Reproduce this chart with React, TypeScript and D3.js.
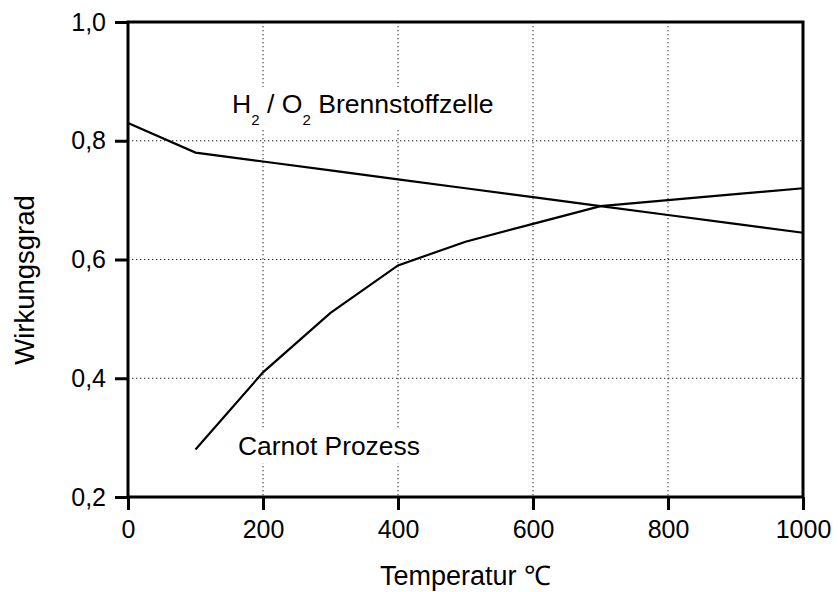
import React, { useEffect, useRef } from "react";
import * as d3 from "d3";

// Efficiency vs. temperature: H2/O2 fuel cell compared with the Carnot process
const fuelCellTemps = [0, 100, 200, 300, 400, 500, 600, 700, 800, 900, 1000];
const fuelCellEff = [0.83, 0.78, 0.765, 0.75, 0.735, 0.72, 0.705, 0.69, 0.675, 0.66, 0.645];
const carnotTemps = [100, 200, 300, 400, 500, 600, 700, 800, 900, 1000];
const carnotEff = [0.28, 0.41, 0.51, 0.59, 0.63, 0.66, 0.69, 0.7, 0.71, 0.72];
const xTicks = [0, 200, 400, 600, 800, 1000];
const yTicks = [0.2, 0.4, 0.6, 0.8, 1.0];
const xGrid = [200, 400, 600, 800];
const yGrid = [0.4, 0.6, 0.8];

const W = 838;
const H = 592;
const FONT = "'Liberation Sans', Arial, Helvetica, sans-serif";

export default function App() {
  const ref = useRef<SVGSVGElement | null>(null);

  useEffect(() => {
    const svg = d3.select(ref.current);
    svg.selectAll("*").remove();

    const x = d3.scaleLinear().domain([0, 1000]).range([128, 803]);
    const y = d3.scaleLinear().domain([0.2, 1.0]).range([497, 22]);
    const [x0, x1] = x.range();
    const [y0, y1] = y.range();

    svg.append("rect").attr("width", W).attr("height", H).attr("fill", "#fff");

    // dotted grid
    const grid = svg.append("g").attr("stroke", "#222").attr("stroke-width", 1).attr("stroke-dasharray", "1.3,2.7");
    xGrid.forEach((v) => {
      grid.append("line").attr("x1", x(v)).attr("x2", x(v)).attr("y1", y1).attr("y2", y0);
    });
    yGrid.forEach((v) => {
      grid.append("line").attr("x1", x0).attr("x2", x1).attr("y1", y(v)).attr("y2", y(v));
    });

    // curve labels on white backing
    const labels = svg.append("g").attr("font-family", FONT).attr("fill", "#000");
    const addBacked = (t: d3.Selection<SVGTextElement, unknown, null, undefined>) => {
      const b = (t.node() as SVGTextElement).getBBox();
      labels
        .insert("rect", () => t.node() as any)
        .attr("x", b.x - 4)
        .attr("y", b.y - 2)
        .attr("width", b.width + 8)
        .attr("height", b.height + 4)
        .attr("fill", "#fff");
    };

    const h2 = labels.append("text").attr("x", 232).attr("y", 113).attr("font-size", 26.6);
    h2.append("tspan").text("H");
    h2.append("tspan").attr("font-size", 15).attr("dy", 12).text("2");
    h2.append("tspan").attr("dy", -12).text(" / O");
    h2.append("tspan").attr("font-size", 15).attr("dy", 12).text("2");
    h2.append("tspan").attr("dy", -12).text(" Brennstoffzelle");
    addBacked(h2 as any);

    const carnot = labels
      .append("text")
      .attr("x", 238)
      .attr("y", 455)
      .attr("font-size", 26.4)
      .text("Carnot Prozess");
    addBacked(carnot as any);

    // data lines
    const line = d3
      .line<[number, number]>()
      .x((d) => x(d[0]))
      .y((d) => y(d[1]));
    const fuel = fuelCellTemps.map((t, i) => [t, fuelCellEff[i]] as [number, number]);
    const carn = carnotTemps.map((t, i) => [t, carnotEff[i]] as [number, number]);
    [fuel, carn].forEach((data) => {
      svg
        .append("path")
        .attr("d", line(data))
        .attr("fill", "none")
        .attr("stroke", "#000")
        .attr("stroke-width", 2.2)
        .attr("stroke-linejoin", "miter");
    });

    // frame
    svg
      .append("rect")
      .attr("x", x0)
      .attr("y", y1)
      .attr("width", x1 - x0)
      .attr("height", y0 - y1)
      .attr("fill", "none")
      .attr("stroke", "#000")
      .attr("stroke-width", 3);

    // axes
    const fmt = (v: number) => d3.format(".1f")(v).replace(".", ",");
    const xAxis = svg
      .append("g")
      .attr("transform", `translate(0,${y0})`)
      .call(d3.axisBottom(x).tickValues(xTicks).tickSize(13).tickPadding(10).tickFormat((d) => String(d)));
    const yAxis = svg
      .append("g")
      .attr("transform", `translate(${x0},0)`)
      .call(d3.axisLeft(y).tickValues(yTicks).tickSize(13).tickPadding(9).tickFormat((d) => fmt(d as number)));
    [xAxis, yAxis].forEach((g) => {
      g.select(".domain").remove();
      g.selectAll(".tick line").attr("stroke", "#000").attr("stroke-width", 3);
      g.selectAll(".tick text").attr("fill", "#000").attr("font-size", 25).attr("font-family", FONT);
    });

    // axis titles
    svg
      .append("text")
      .attr("x", (x0 + x1) / 2)
      .attr("y", 585)
      .attr("text-anchor", "middle")
      .attr("font-family", FONT)
      .attr("font-size", 27)
      .text("Temperatur \u2103");
    svg
      .append("text")
      .attr("transform", `translate(34,280) rotate(-90)`)
      .attr("text-anchor", "middle")
      .attr("font-family", FONT)
      .attr("font-size", 27.5)
      .text("Wirkungsgrad");
  }, []);

  return (
    <svg
      ref={ref}
      width={W}
      height={H}
      style={{ position: "absolute", left: 0, top: 0, display: "block" }}
    />
  );
}
